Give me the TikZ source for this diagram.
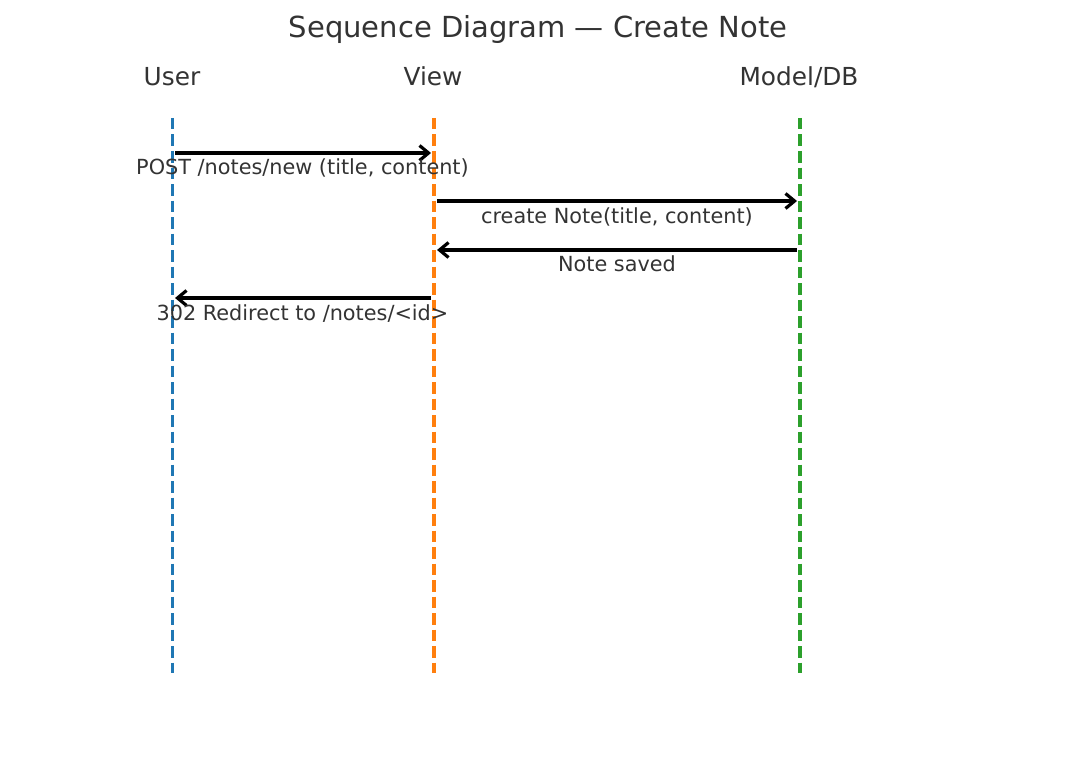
\documentclass[tikz,border=0pt]{standalone}
\usepackage{fontspec}
\setmainfont{DejaVu Sans}
\usetikzlibrary{arrows.meta}

\definecolor{inkgrey}{HTML}{333333}
\definecolor{userblue}{HTML}{1F77B4}
\definecolor{vieworange}{HTML}{FF7F0E}
\definecolor{modelgreen}{HTML}{2CA02C}

\tikzset{
  heading/.style={text=inkgrey, inner sep=0pt, anchor=base, font=\fontsize{29}{34}\selectfont},
  actor/.style={text=inkgrey, inner sep=0pt, anchor=base, font=\fontsize{24.8}{30}\selectfont},
  lifeline/.style={line width=3.2pt, dash pattern=on 11.5pt off 5pt},
  msg/.style={line width=3.2pt, -{Straight Barb[length=9pt, width=15pt, line width=3.2pt]}},
  msglabel/.style={text=inkgrey, inner sep=0pt, anchor=base, font=\fontsize{20.8}{25}\selectfont}
}

\begin{document}
\begin{tikzpicture}[x=1pt, y=-1pt]
  \useasboundingbox (0,0) rectangle (1076,757);

  % title and participants
  \node[heading] (title) at (538,38) {Sequence Diagram — Create Note};
  \node[actor] (user)  at (172,85.5) {User};
  \node[actor] (view)  at (433,85.5) {View};
  \node[actor] (model) at (799,85.5) {Model/DB};

  % lifelines
  \coordinate (utop) at (172.5,118);  \coordinate (ubot) at (172.5,673);
  \coordinate (vtop) at (434,118);    \coordinate (vbot) at (434,673);
  \coordinate (mtop) at (800,118);    \coordinate (mbot) at (800,673);
  \draw[lifeline, userblue]   (utop) -- (ubot);
  \draw[lifeline, vieworange] (vtop) -- (vbot);
  \draw[lifeline, modelgreen] (mtop) -- (mbot);

  % message ends
  \coordinate (u1) at (175,153);  \coordinate (v1) at (431,153);
  \coordinate (v2) at (437,201);  \coordinate (m2) at (797,201);
  \coordinate (m3) at (797,250);  \coordinate (v3) at (437,250);
  \coordinate (v4) at (431,298);  \coordinate (u4) at (175,298);

  % messages
  \draw[msg] (u1) -- (v1);
  \draw[msg] (v2) -- (m2);
  \draw[msg] (m3) -- (v3);
  \draw[msg] (v4) -- (u4);

  \node[msglabel] (post)     at (302.5,174.5) {POST /notes/new (title, content)};
  \node[msglabel] (create)   at (617,223)   {create Note(title, content)};
  \node[msglabel] (saved)    at (617,271.5) {Note saved};
  \node[msglabel] (redirect) at (302.5,320.5) {302 Redirect to /notes/<id>};
\end{tikzpicture}
\end{document}
